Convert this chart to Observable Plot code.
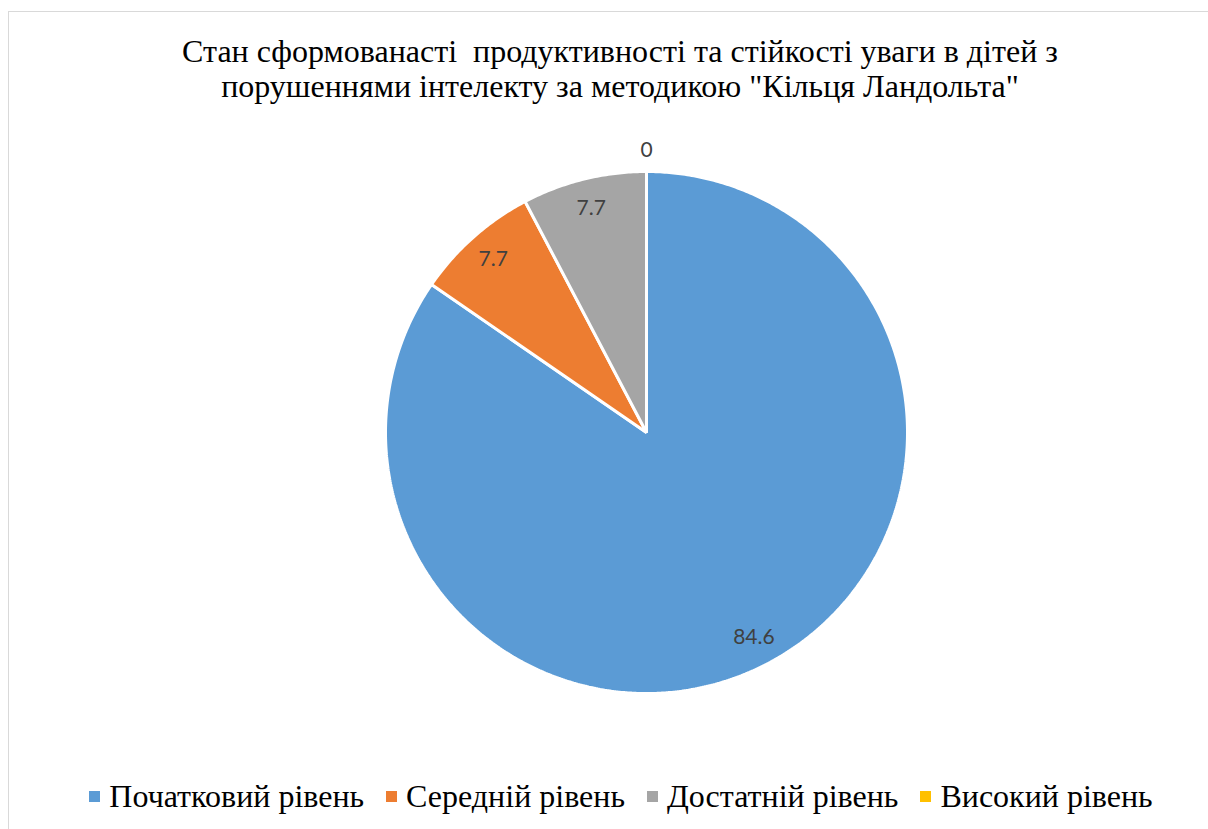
<!DOCTYPE html>
<html>
<head>
<meta charset="utf-8">
<script src="https://cdn.jsdelivr.net/npm/d3@7"></script>
<script src="https://cdn.jsdelivr.net/npm/@observablehq/plot@0.6"></script>
<style>
  html, body { margin: 0; padding: 0; background: #fff; }
  #wrap { position: relative; width: 1208px; height: 829px; overflow: hidden; background: #fff; }
  #frame { position: absolute; left: 8px; top: 11px; width: 1240px; height: 860px; border: 1.5px solid #d9d9d9; box-sizing: border-box; }
  #title { position: absolute; left: 0; top: 34px; width: 1240px; text-align: center; font-family: "Liberation Serif", "Tinos", "Times New Roman", serif; font-size: 32px; line-height: 35px; color: #000; }
  #chart { position: absolute; left: 0; top: 120px; }
  #legend { position: absolute; left: 0; top: 778px; width: 1242px; display: flex; justify-content: center; gap: 22px; font-family: "Liberation Serif", "Tinos", "Times New Roman", serif; font-size: 32px; line-height: 36px; color: #000; }
  .item { display: flex; align-items: center; white-space: nowrap; }
  .sw { width: 11px; height: 11px; margin-right: 9px; display: inline-block; }
</style>
</head>
<body>
<div id="wrap">
  <div id="frame"></div>
  <div id="title">Стан сформованасті&nbsp; продуктивності та стійкості уваги в дітей з<br>порушеннями інтелекту за методикою "Кільця Ландольта"</div>
  <div id="chart"></div>
  <div id="legend"></div>
</div>
<script>
const categories = ["Початковий рівень", "Середній рівень", "Достатній рівень", "Високий рівень"];
const values = [84.6, 7.7, 7.7, 0];
const valueLabels = ["84.6", "7.7", "7.7", "0"];
const colors = ["#5B9BD5", "#ED7D31", "#A5A5A5", "#FFC000"];

const W = 1208, H = 640, CX = 646, CY = 312, R = 261;

const rows = categories.map((c, i) => ({category: c, value: values[i], label: valueLabels[i]}));
const arcs = d3.pie().sort(null).value(d => d.value).startAngle(0).endAngle(2 * Math.PI)(rows);

// polygon outline of each slice (unit radius, y up), clockwise from 12 o'clock
const poly = [];
arcs.forEach(a => {
  const n = Math.max(2, Math.ceil((a.endAngle - a.startAngle) / (Math.PI / 360)));
  poly.push({category: a.data.category, x: 0, y: 0});
  for (let k = 0; k <= n; k++) {
    const t = a.startAngle + (a.endAngle - a.startAngle) * k / n;
    poly.push({category: a.data.category, x: Math.sin(t), y: Math.cos(t)});
  }
});

const labelPts = arcs.map(a => {
  const m = (a.startAngle + a.endAngle) / 2;
  const r = a.data.value > 0 ? 0.885 : 1.08;
  return {label: a.data.label, x: r * Math.sin(m), y: r * Math.cos(m)};
});

const plot = Plot.plot({
  width: W, height: H,
  margin: 0,
  x: {domain: [-CX / R, (W - CX) / R], range: [0, W], axis: null},
  y: {domain: [-(H - CY) / R, CY / R], range: [H, 0], axis: null},
  color: {domain: categories, range: colors},
  style: {background: "transparent", overflow: "visible"},
  marks: [
    Plot.line(poly, {x: "x", y: "y", z: "category", fill: "category", stroke: "white", strokeWidth: 3, strokeLinejoin: "miter", curve: "linear-closed"}),
    Plot.text(labelPts, {x: "x", y: "y", text: "label", fill: "#404040", fontSize: 21, fontFamily: "Lato, 'Open Sans', sans-serif"})
  ]
});
document.getElementById("chart").appendChild(plot);

const leg = d3.select("#legend");
categories.forEach((c, i) => {
  const it = leg.append("div").attr("class", "item");
  it.append("span").attr("class", "sw").style("background", colors[i]);
  it.append("span").text(c);
});
</script>
</body>
</html>
